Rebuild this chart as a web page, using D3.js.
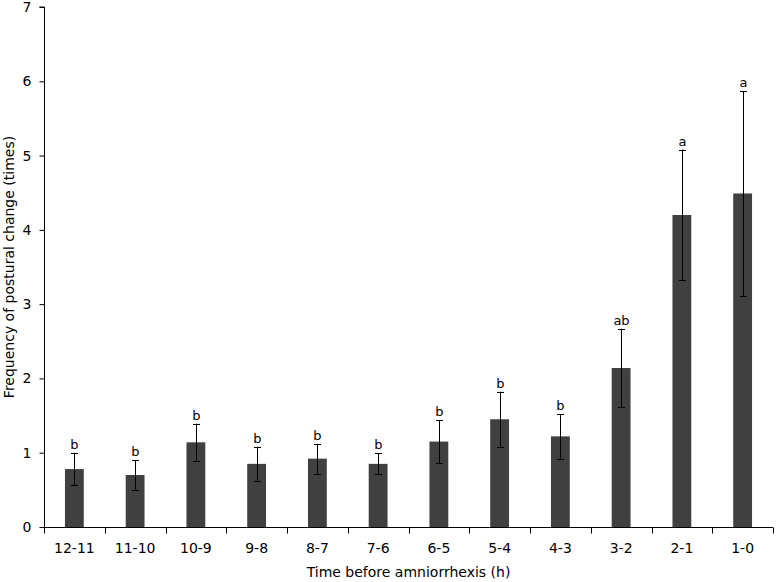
<!DOCTYPE html>
<html>
<head>
<meta charset="utf-8">
<script src="https://d3js.org/d3.v7.min.js"></script>
<style>
  body { margin: 0; background: #fff; }
  text { font-family: "DejaVu Sans", Verdana, sans-serif; }
</style>
</head>
<body>
<script>
// Time windows before amniorrhexis (h)
const categories = ["12-11", "11-10", "10-9", "9-8", "8-7", "7-6", "6-5", "5-4", "4-3", "3-2", "2-1", "1-0"];
// Mean frequency of postural change
const means = [0.78, 0.70, 1.14, 0.85, 0.92, 0.85, 1.15, 1.45, 1.22, 2.14, 4.20, 4.49];
// Error (SE)
const errors = [0.22, 0.20, 0.25, 0.23, 0.20, 0.14, 0.29, 0.37, 0.30, 0.53, 0.88, 1.38];
// Significance letters
const letters = ["b", "b", "b", "b", "b", "b", "b", "b", "b", "ab", "a", "a"];
const yTicks = [0, 1, 2, 3, 4, 5, 6, 7];

const width = 776, height = 582;
const margin = {left: 44, right: 3, top: 7, bottom: 55};

const svg = d3.select("body").append("svg")
  .attr("width", width)
  .attr("height", height);

const x = d3.scaleBand()
  .domain(categories)
  .range([margin.left, width - margin.right])
  .paddingInner(0.69)
  .paddingOuter(0.345);

const y = d3.scaleLinear()
  .domain([0, 7])
  .range([height - margin.bottom, margin.top]);

// Bars
svg.selectAll("rect.bar")
  .data(means)
  .join("rect")
  .attr("class", "bar")
  .attr("x", (d, i) => x(categories[i]))
  .attr("y", d => y(d))
  .attr("width", x.bandwidth())
  .attr("height", d => y(0) - y(d))
  .attr("fill", "#404040");

// Error bars
const eb = svg.append("g").attr("stroke", "#000").attr("stroke-width", 1);
means.forEach((m, i) => {
  const cx = Math.round(x(categories[i]) + x.bandwidth() / 2) + 0.5;
  const lo = y(m - errors[i]), hi = y(m + errors[i]);
  eb.append("line").attr("x1", cx).attr("x2", cx).attr("y1", lo).attr("y2", hi);
  eb.append("line").attr("x1", cx - 3.5).attr("x2", cx + 3.5).attr("y1", Math.round(hi) + 0.5).attr("y2", Math.round(hi) + 0.5);
  eb.append("line").attr("x1", cx - 3.5).attr("x2", cx + 3.5).attr("y1", Math.round(lo) + 0.5).attr("y2", Math.round(lo) + 0.5);
  svg.append("text")
    .attr("x", cx)
    .attr("y", hi - 4)
    .attr("text-anchor", "middle")
    .style("font-size", "13px")
    .attr("fill", "#000")
    .text(letters[i]);
});

// Y axis
const yAxis = svg.append("g")
  .attr("transform", `translate(${margin.left + 0.5},0)`)
  .call(d3.axisLeft(y).tickValues(yTicks).tickSize(5).tickPadding(8).tickFormat(d3.format("d")));
yAxis.selectAll("text").style("font-size", "14px").attr("fill", "#000");
yAxis.selectAll("line, path").attr("stroke", "#000");
yAxis.select(".domain").attr("d", `M-5,${y(7)}H0V${y(0)}`);

// X axis
const xAxis = svg.append("g")
  .attr("transform", `translate(0,${y(0) + 0.5})`)
  .call(d3.axisBottom(x).tickSize(0).tickPadding(16));
xAxis.selectAll("text").style("font-size", "14px").attr("fill", "#000");
xAxis.select(".domain").attr("stroke", "#000").attr("d", `M${margin.left},0H${width - margin.right}`);
// category boundary ticks
const step = x.step();
const bounds = d3.range(categories.length + 1).map(i => margin.left + i * step);
xAxis.selectAll("line.bound")
  .data(bounds)
  .join("line")
  .attr("class", "bound")
  .attr("x1", d => Math.round(d) + 0.5)
  .attr("x2", d => Math.round(d) + 0.5)
  .attr("y1", 0)
  .attr("y2", 6)
  .attr("stroke", "#000");

// Axis titles
svg.append("text")
  .attr("x", (margin.left + width - margin.right) / 2)
  .attr("y", 577)
  .attr("text-anchor", "middle")
  .style("font-size", "14px")
  .text("Time before amniorrhexis (h)");

svg.append("text")
  .attr("transform", `translate(14,${y(3.5)}) rotate(-90)`)
  .attr("text-anchor", "middle")
  .style("font-size", "14px")
  .text("Frequency of postural change (times)");
</script>
</body>
</html>
